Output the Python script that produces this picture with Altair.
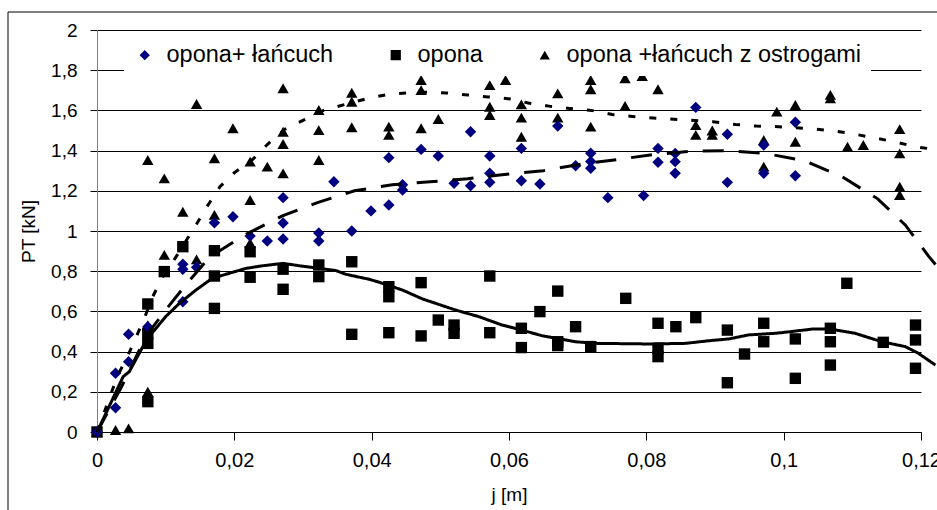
import altair as alt
import pandas as pd

S1 = "opona+ łańcuch"
S2 = "opona"
S3 = "opona +łańcuch z ostrogami"
SERIES = [S1, S2, S3]

# --- measured points: opona + łańcuch (diamonds)
s1_x = [0, 0.0027, 0.0027, 0.0046, 0.0046, 0.0074, 0.0125, 0.0125, 0.0125, 0.0145,
        0.0171, 0.0198, 0.0223, 0.0248, 0.0271, 0.0271, 0.0271, 0.0323, 0.0323, 0.0345,
        0.0371, 0.0399, 0.0425, 0.0425, 0.0445, 0.0445, 0.0472, 0.0497, 0.052, 0.0544,
        0.0544, 0.0572, 0.0572, 0.0572, 0.0618, 0.0618, 0.0645, 0.0671, 0.0697, 0.0719,
        0.0719, 0.0719, 0.0744, 0.0796, 0.0817, 0.0817, 0.0842, 0.0842, 0.0842, 0.0872,
        0.0918, 0.0918, 0.0971, 0.0971, 0.1017, 0.1017]
s1_y = [0, 0.121, 0.292, 0.35, 0.486, 0.524, 0.648, 0.81, 0.835, 0.82,
        1.041, 1.071, 0.975, 0.95, 0.96, 1.04, 1.166, 0.95, 0.99, 1.245,
        1.0, 1.1, 1.129, 1.365, 1.204, 1.23, 1.406, 1.373, 1.237, 1.225,
        1.494, 1.242, 1.287, 1.373, 1.25, 1.411, 1.234, 1.522, 1.325, 1.312,
        1.346, 1.387, 1.166, 1.176, 1.342, 1.411, 1.287, 1.345, 1.386, 1.615,
        1.242, 1.481, 1.287, 1.428, 1.275, 1.541]

# --- measured points: opona (squares)
s2_x = [0, 0.0074, 0.0074, 0.0074, 0.0074, 0.0098, 0.0125, 0.0171, 0.0171, 0.0171,
        0.0223, 0.0223, 0.0271, 0.0271, 0.0323, 0.0323, 0.0371, 0.0371, 0.0425, 0.0425,
        0.0425, 0.0472, 0.0472, 0.0497, 0.052, 0.052, 0.0572, 0.0572, 0.0618, 0.0618,
        0.0645, 0.0671, 0.0671, 0.0671, 0.0697, 0.0719, 0.077, 0.0817, 0.0817, 0.0817,
        0.0843, 0.0872, 0.0918, 0.0918, 0.0943, 0.0971, 0.0971, 0.1017, 0.1017, 0.1068,
        0.1068, 0.1068, 0.1092, 0.1145, 0.1192, 0.1192, 0.1192]
s2_y = [0, 0.151, 0.441, 0.491, 0.637, 0.798, 0.922, 0.615, 0.776, 0.902,
        0.77, 0.897, 0.71, 0.81, 0.773, 0.831, 0.486, 0.847, 0.494, 0.673,
        0.723, 0.478, 0.743, 0.557, 0.491, 0.532, 0.494, 0.776, 0.42, 0.516,
        0.599, 0.43, 0.449, 0.701, 0.524, 0.425, 0.665, 0.375, 0.416, 0.541,
        0.524, 0.569, 0.245, 0.507, 0.388, 0.449, 0.541, 0.267, 0.463, 0.333,
        0.449, 0.516, 0.74, 0.446, 0.317, 0.458, 0.532]

# --- measured points: opona + łańcuch z ostrogami (triangles)
s3_x = [0, 0.0027, 0.0046, 0.0074, 0.0074, 0.0074, 0.0098, 0.0098, 0.0125, 0.0145,
        0.0145, 0.0171, 0.0171, 0.0198, 0.0223, 0.0223, 0.0223, 0.0248, 0.0271, 0.0271,
        0.0271, 0.0271, 0.0323, 0.0323, 0.0323, 0.0371, 0.0371, 0.0371, 0.0425, 0.0425,
        0.0472, 0.0472, 0.0472, 0.0497, 0.0513, 0.0572, 0.0572, 0.0572, 0.0595, 0.0618,
        0.0618, 0.0618, 0.0671, 0.0671, 0.0719, 0.0719, 0.0719, 0.0769, 0.0769, 0.0794,
        0.0817, 0.0872, 0.0872, 0.0896, 0.0896, 0.0971, 0.0971, 0.099, 0.1017, 0.1017,
        0.1068, 0.1068, 0.1093, 0.1116, 0.1169, 0.1169, 0.1169, 0.1169]
s3_y = [0, 0.01, 0.018, 0.2, 0.53, 1.353, 0.881, 1.262, 1.096, 0.859,
        1.632, 1.08, 1.362, 1.511, 0.94, 1.154, 1.345, 1.32, 1.287, 1.433,
        1.494, 1.71, 1.353, 1.502, 1.602, 1.516, 1.643, 1.688, 1.478, 1.519,
        1.511, 1.701, 1.751, 1.557, 1.80, 1.577, 1.618, 1.726, 1.751, 1.469,
        1.564, 1.63, 1.564, 1.685, 1.519, 1.705, 1.751, 1.622, 1.76, 1.771,
        1.705, 1.478, 1.527, 1.478, 1.5, 1.32, 1.453, 1.594, 1.444, 1.627,
        1.66, 1.677, 1.419, 1.428, 1.179, 1.22, 1.386, 1.507]

# --- trend curves
c2_x = [0, 0.0013, 0.0038, 0.0047, 0.0072, 0.010, 0.012, 0.0144, 0.0168, 0.0193,
        0.0217, 0.0241, 0.0271, 0.0295, 0.0324, 0.0348, 0.0362, 0.0396, 0.0411, 0.0445,
        0.0474, 0.0522, 0.0556, 0.059, 0.0619, 0.0648, 0.0697, 0.0726, 0.0804, 0.0857,
        0.0891, 0.092, 0.0949, 0.0988, 0.1017, 0.1041, 0.1068, 0.1104, 0.1143, 0.1177,
        0.1196, 0.1221]
c2_y = [0, 0.093, 0.275, 0.30, 0.458, 0.574, 0.64, 0.706, 0.765, 0.79,
        0.814, 0.827, 0.839, 0.827, 0.814, 0.803, 0.785, 0.76, 0.745, 0.706,
        0.662, 0.607, 0.574, 0.532, 0.507, 0.479, 0.449, 0.441, 0.438, 0.441,
        0.454, 0.463, 0.483, 0.491, 0.502, 0.512, 0.512, 0.491, 0.449, 0.425,
        0.392, 0.333]

c1_x = [0, 0.0035, 0.0072, 0.010, 0.013, 0.0164, 0.0215, 0.027, 0.032, 0.0375,
        0.043, 0.0485, 0.054, 0.059, 0.065, 0.070, 0.0756, 0.081, 0.0866, 0.092,
        0.0975, 0.103, 0.1085, 0.1137, 0.1177, 0.1211, 0.1222]
c1_y = [0, 0.22, 0.48, 0.607, 0.735, 0.87, 0.98, 1.075, 1.14, 1.20,
        1.23, 1.245, 1.26, 1.28, 1.30, 1.33, 1.355, 1.38, 1.397, 1.40,
        1.385, 1.35, 1.27, 1.16, 1.03, 0.875, 0.83]

c3_x = [0, 0.003, 0.0045, 0.0058, 0.007, 0.008, 0.0096, 0.0113, 0.0145, 0.016,
        0.0179, 0.020, 0.0225, 0.0248, 0.0273, 0.0303, 0.033, 0.0367, 0.0395, 0.042,
        0.045, 0.0478, 0.0508, 0.054, 0.057, 0.0602, 0.0628, 0.066, 0.0688, 0.072,
        0.075, 0.078, 0.081, 0.0835, 0.0897, 0.093, 0.096, 0.0985, 0.1015, 0.1047,
        0.1075, 0.1105, 0.1135, 0.1162, 0.1192, 0.1222]
c3_y = [0, 0.28, 0.38, 0.48, 0.575, 0.665, 0.775, 0.86, 1.035, 1.12,
        1.22, 1.29, 1.35, 1.43, 1.505, 1.555, 1.60, 1.635, 1.66, 1.677,
        1.687, 1.69, 1.687, 1.677, 1.667, 1.657, 1.637, 1.62, 1.61, 1.60,
        1.58, 1.57, 1.562, 1.557, 1.544, 1.53, 1.522, 1.52, 1.514, 1.507,
        1.497, 1.481, 1.461, 1.444, 1.419, 1.405]

x_ticks = [0, 0.02, 0.04, 0.06, 0.08, 0.1, 0.12]
y_ticks = [0, 0.2, 0.4, 0.6, 0.8, 1, 1.2, 1.4, 1.6, 1.8, 2]

FONT = "Liberation Sans"

pts = pd.concat([
    pd.DataFrame({"x": s3_x, "y": s3_y, "series": S3}),
    pd.DataFrame({"x": s2_x, "y": s2_y, "series": S2}),
    pd.DataFrame({"x": s1_x, "y": s1_y, "series": S1}),
], ignore_index=True)

lines = pd.concat([
    pd.DataFrame({"x": c1_x, "y": c1_y, "curve": "c1"}),
    pd.DataFrame({"x": c2_x, "y": c2_y, "curve": "c2"}),
    pd.DataFrame({"x": c3_x, "y": c3_y, "curve": "c3"}),
], ignore_index=True)

lbl = "replace(format(datum.value, '~g'), '.', ',')"
x_scale = alt.Scale(domain=[0, 0.12], nice=False, zero=False)
y_scale = alt.Scale(domain=[0, 2], nice=False)

x_axis = alt.Axis(values=x_ticks, labelExpr=lbl, title="j [m]", grid=False,
                  domainColor="black", tickColor="black", tickSize=8,
                  labelFontSize=20, labelPadding=10, labelFlush=False,
                  titleFontSize=19, titlePadding=15)
y_axis = alt.Axis(values=y_ticks, labelExpr=lbl, title="PT [kN]", grid=True,
                  gridColor="black", gridWidth=1, domainColor="#808080",
                  tickColor="black", tickSize=7, labelFontSize=19, labelPadding=13,
                  titleFontSize=19, titlePadding=12)

legend = alt.Legend(title=None, orient="none", legendX=27, legendY=4,
                    direction="horizontal", fillColor="white", padding=9,
                    symbolSize=105, symbolStrokeWidth=0, labelFontSize=23.5,
                    labelFont=FONT, labelColor="black", labelOffset=10,
                    columnPadding=50, labelLimit=600)

points = alt.Chart(pts).mark_point(filled=True, opacity=1, size=130, strokeWidth=0).encode(
    x=alt.X("x:Q", scale=x_scale, axis=x_axis),
    y=alt.Y("y:Q", scale=y_scale, axis=y_axis),
    color=alt.Color("series:N", scale=alt.Scale(domain=SERIES, range=["#000080", "black", "black"]), legend=legend),
    shape=alt.Shape("series:N", scale=alt.Scale(domain=SERIES, range=["diamond", "square", "triangle-up"]), legend=legend),
)

curves = alt.Chart(lines).mark_line(color="black", strokeWidth=3).encode(
    x=alt.X("x:Q", scale=x_scale),
    y=alt.Y("y:Q", scale=y_scale),
    detail="curve:N",
    strokeDash=alt.StrokeDash("curve:N", scale=alt.Scale(domain=["c1", "c2", "c3"], range=[[21, 15], [1, 0], [7, 14]]), legend=None),
)

frame = alt.Chart(pd.DataFrame({"a": [0]})).mark_rect(fillOpacity=0, stroke="black", strokeWidth=1).encode(
    x=alt.value(-89), x2=alt.value(870), y=alt.value(-18), y2=alt.value(500)
)

chart = alt.layer(points, curves, frame).properties(
    width=824, height=402,
    autosize=alt.AutoSizeParams(type="none"),
    padding={"left": 97, "top": 30, "right": 16, "bottom": 78},
    background="white",
).configure_view(strokeWidth=0).configure_axis(
    labelFont=FONT, titleFont=FONT, labelColor="black", titleColor="black",
    titleFontWeight="normal",
).configure_legend(labelFont=FONT)

chart.save("out.html", embed_options={"renderer": "svg", "actions": False})
